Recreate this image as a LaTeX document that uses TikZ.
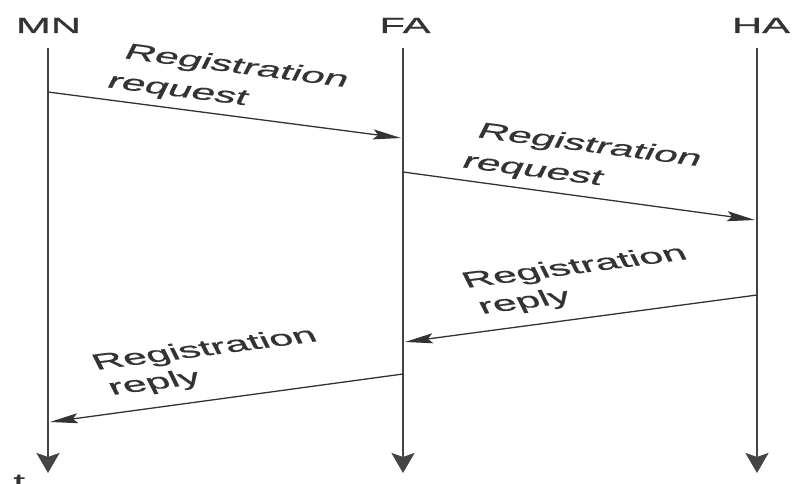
\documentclass[tikz,border=0pt]{standalone}
\usepackage{fontspec}
\setmainfont{Liberation Sans}
% a slightly heavier cut of the same face for all labels
\newfontfamily\labelfont[FakeBold=0.6]{Liberation Sans}
\usetikzlibrary{arrows.meta}
\definecolor{ink}{HTML}{333333}
\definecolor{lineink}{HTML}{444444}
\tikzset{
  lifeline/.style={draw=lineink, line width=2.6pt,
    -{Stealth[length=20pt, width=23pt, inset=4pt]}},
  msg/.style={draw=ink, line width=1.3pt,
    -{Stealth[length=28pt, width=10pt, inset=5pt]}},
  wide/.style={inner sep=0pt, text=ink, xscale=1.9,
    font=\labelfont\fontsize{22}{28}\selectfont},
  actor/.style={wide, anchor=base},
  down/.style={wide, xscale=1.03, anchor=base west, rotate=-14.3},
  up/.style={wide, xscale=1.03, anchor=base west, rotate=14.3}
}
\begin{document}
\begin{tikzpicture}[x=1pt, y=-1pt]
  \useasboundingbox (0,0) rectangle (792,484);
  \clip (0,0) rectangle (792,484);
  \fill[white] (0,0) rectangle (792,484);

  % actors
  \node[actor] (mn) at (48.5,33) {MN};
  \node[actor] (fa) at (405,33) {FA};
  \node[actor] (ha) at (761,33) {HA};

  % lifelines
  \coordinate (mn-top) at (48,48);  \coordinate (mn-end) at (48,473);
  \coordinate (fa-top) at (403,48); \coordinate (fa-end) at (403,473);
  \coordinate (ha-top) at (757,48); \coordinate (ha-end) at (757,473);
  \draw[lifeline] (mn-top) -- (mn-end);
  \draw[lifeline] (fa-top) -- (fa-end);
  \draw[lifeline] (ha-top) -- (ha-end);

  % message end points on the lifelines
  \coordinate (m1s) at (48,92);   \coordinate (m1e) at (401,138);
  \coordinate (m2s) at (403,172); \coordinate (m2e) at (755,220);
  \coordinate (m3s) at (757,295); \coordinate (m3e) at (405,342);
  \coordinate (m4s) at (403,374); \coordinate (m4e) at (50,422);

  \draw[msg] (m1s) -- (m1e);
  \draw[msg] (m2s) -- (m2e);
  \draw[msg] (m3s) -- (m3e);
  \draw[msg] (m4s) -- (m4e);

  % message labels
  \node[down] (l1a) at (122,58)  {Registration};
  \node[down] (l1b) at (105,87)  {request};
  \node[down] (l2a) at (475,137) {Registration};
  \node[down] (l2b) at (460,167) {request};
  \node[up]   (l3a) at (466,288) {Registration};
  \node[up]   (l3b) at (482,314) {reply};
  \node[up]   (l4a) at (96,370)  {Registration};
  \node[up]   (l4b) at (112,395) {reply};

  % time axis
  \node[wide, anchor=base west] (t) at (13,489) {t};
\end{tikzpicture}
\end{document}
